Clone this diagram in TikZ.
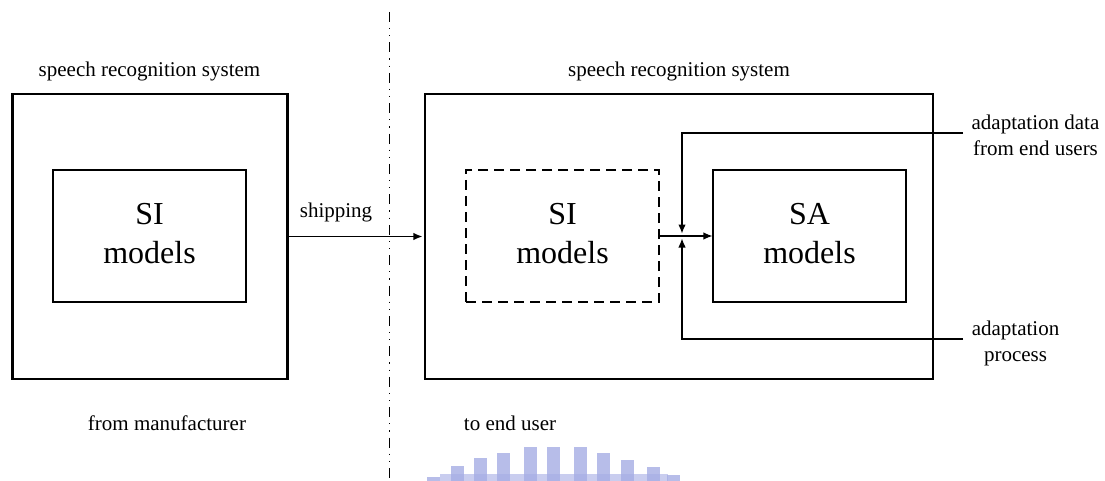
\documentclass[tikz,border=0pt]{standalone}
\usepackage{fontspec}
\newfontfamily\figserif{Liberation Serif}
\usetikzlibrary{arrows.meta}

\definecolor{wmblue}{RGB}{165,172,228}

\newcommand{\twoline}[2]{\begin{tabular}{@{}c@{}}#1\\#2\end{tabular}}

\tikzset{
  sysbox/.style={draw, line width=2.6pt, inner sep=0pt, minimum height=285pt},
  modelbox/.style={draw, line width=1.2pt, inner sep=0pt, minimum width=193pt,
    minimum height=132pt, font=\figserif\fontsize{32}{40}\selectfont},
  lbl/.style={inner sep=0pt, font=\figserif\fontsize{21}{26}\selectfont},
  conn/.style={line width=1.2pt},
  tip/.style={-{Latex[length=9pt,width=7.5pt]}},
  divider/.style={line width=1pt,
    dash pattern=on 10pt off 6pt on 1.2pt off 6pt on 1.2pt off 6pt},
}

\begin{document}
\begin{tikzpicture}[x=1pt,y=-1pt]
\useasboundingbox (0,0) rectangle (1105,481);

% faint emblem at the foot of the page
\foreach \cx/\top in {433/477,457/466,480/458,503/453,530/447,553/447,
                      580/447,603/453,627/460,653/467,673/475}
  \fill[wmblue, opacity=0.8] (\cx-6.5,\top) rectangle (\cx+6.5,481);
\fill[wmblue, opacity=0.6] (440,474) rectangle (668,481);

% divider between manufacturer side and user side
\coordinate (divTop) at (389,12);
\coordinate (divBot) at (389,481);
\draw[divider] (divTop) -- (divBot);

% systems
\node[sysbox, minimum width=275pt] (sysL) at (150,236.5) {};
\node[sysbox, minimum width=508pt] (sysR) at (679,236.5) {};

% models
\node[modelbox] (siL) at (149.5,236) {\twoline{SI}{models}};
\node[modelbox, dash pattern=on 10pt off 6pt] (siR) at (562.5,236) {\twoline{SI}{models}};
\node[modelbox] (sa) at (809.5,236) {\twoline{SA}{models}};

% labels
\node[lbl, anchor=base] (titleL) at (149.5,77) {speech recognition system};
\node[lbl, anchor=base] (titleR) at (679,77) {speech recognition system};
\node[lbl, anchor=base] (ship) at (336,217) {shipping};
\node[lbl, anchor=base] (fromMf) at (167,430) {from manufacturer};
\node[lbl, anchor=base] (toUser) at (510,430) {to end user};
\node[lbl] (dataLbl) at (1035.5,137) {\twoline{adaptation data}{from end users}};
\node[lbl] (procLbl) at (1015.5,343) {\twoline{adaptation}{process}};

% shipping
\draw[conn, tip, shorten >=1.3pt] (sysL.east) -- (sysR.west);

% adaptation
\draw[conn, tip] (siR.east) -- (sa.west);
\coordinate (jTop) at (682,233.5);
\coordinate (jBot) at (682,238.5);
\coordinate (dataIn) at (963,133);
\coordinate (procIn) at (963,339);
\draw[conn, tip] (dataIn) -| (jTop);
\draw[conn, tip] (procIn) -| (jBot);
\end{tikzpicture}
\end{document}
